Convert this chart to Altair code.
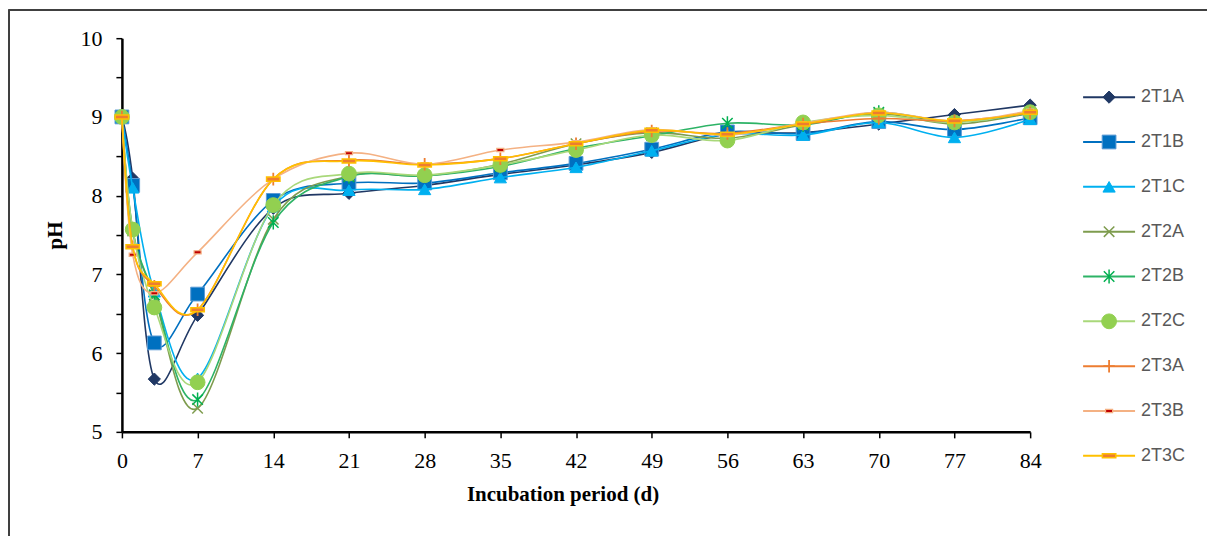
import altair as alt
import pandas as pd

# ---------------- data ----------------
days = [0, 1, 3, 7, 14, 21, 28, 35, 42, 49, 56, 63, 70, 77, 84]
series_names = ["2T1A", "2T1B", "2T1C", "2T2A", "2T2B", "2T2C", "2T3A", "2T3B", "2T3C"]

ph_2T1A = [9.00, 8.22, 5.67, 6.48, 7.84, 8.03, 8.13, 8.27, 8.39, 8.55, 8.78, 8.80, 8.91, 9.03, 9.15]
ph_2T1B = [9.00, 8.13, 6.13, 6.75, 7.94, 8.16, 8.16, 8.29, 8.41, 8.59, 8.81, 8.79, 8.94, 8.84, 8.99]
ph_2T1C = [9.00, 8.10, 6.78, 5.68, 7.86, 8.07, 8.08, 8.23, 8.36, 8.57, 8.78, 8.77, 8.93, 8.74, 8.97]
ph_2T2A = [9.00, 7.55, 6.72, 5.30, 7.70, 8.25, 8.25, 8.40, 8.66, 8.80, 8.73, 8.90, 9.04, 8.91, 9.05]
ph_2T2B = [9.00, 7.57, 6.74, 5.41, 7.66, 8.24, 8.25, 8.37, 8.60, 8.76, 8.92, 8.90, 9.06, 8.94, 9.05]
ph_2T2C = [9.00, 7.57, 6.58, 5.63, 7.88, 8.28, 8.26, 8.39, 8.58, 8.77, 8.70, 8.93, 9.02, 8.93, 9.06]
ph_2T3A = [9.00, 7.35, 6.85, 6.55, 8.21, 8.45, 8.40, 8.47, 8.66, 8.82, 8.79, 8.91, 8.98, 8.95, 9.05]
ph_2T3B = [9.00, 7.25, 6.76, 7.28, 8.21, 8.54, 8.40, 8.58, 8.68, 8.84, 8.77, 8.92, 9.06, 8.95, 9.08]
ph_2T3C = [9.00, 7.35, 6.88, 6.55, 8.21, 8.44, 8.39, 8.47, 8.66, 8.83, 8.78, 8.91, 9.05, 8.95, 9.06]

x_ticks = [0, 7, 14, 21, 28, 35, 42, 49, 56, 63, 70, 77, 84]
y_ticks = [5, 5.5, 6, 6.5, 7, 7.5, 8, 8.5, 9, 9.5, 10]

all_values = [ph_2T1A, ph_2T1B, ph_2T1C, ph_2T2A, ph_2T2B, ph_2T2C, ph_2T3A, ph_2T3B, ph_2T3C]
rows = []
for name, vals in zip(series_names, all_values):
    for d, v in zip(days, vals):
        rows.append({"series": name, "day": d, "pH": v})
df = pd.DataFrame(rows)
legend_df = pd.DataFrame({"series": series_names})

# ---------------- styles ----------------
X_PATH = "M-1,-1L1,1M-1,1L1,-1"
AST_PATH = "M-1,-1L1,1M-1,1L1,-1M0,-1.35L0,1.35"
PLUS_PATH = "M-1,0L1,0M0,-1.1L0,1.1"
DASH_PATH = "M-1,-0.3L1,-0.3L1,0.3L-1,0.3Z"
SMALL_DASH = "M-1,-0.45L1,-0.45L1,0.45L-1,0.45Z"

styles = {
    "2T1A": dict(line="#203864", shape="diamond", fill="#203864", stroke="#203864", size=150, sw=1),
    "2T1B": dict(line="#0070C0", shape="square", fill="#0070C0", stroke="#5B9BD5", size=190, sw=1),
    "2T1C": dict(line="#00B0F0", shape="triangle-up", fill="#00B0F0", stroke="#00B0F0", size=150, sw=1),
    "2T2A": dict(line="#7E9C4E", shape=X_PATH, fill=None, stroke="#7E9C4E", size=110, sw=1.5),
    "2T2B": dict(line="#2DB366", shape=AST_PATH, fill=None, stroke="#00B050", size=110, sw=1.5),
    "2T2C": dict(line="#A9D87A", shape="circle", fill="#92D050", stroke="#92D050", size=220, sw=1),
    "2T3A": dict(line="#ED7D31", shape=PLUS_PATH, fill=None, stroke="#ED7D31", size=130, sw=1.8),
    "2T3B": dict(line="#F4B183", shape=SMALL_DASH, fill="#C00000", stroke="#F4B183", size=50, sw=1.2),
    "2T3C": dict(line="#FFC000", shape=DASH_PATH, fill="#ED7D31", stroke="#FFC000", size=180, sw=1.5),
}

serif = "Liberation Serif"

x_axis = alt.Axis(
    values=x_ticks, title="Incubation period (d)", grid=False,
    domainColor="black", domainWidth=2.5, tickColor="black", tickWidth=1.5, tickSize=6,
    labelFont=serif, labelFontSize=22, labelColor="black", labelPadding=13, labelFlush=False,
    titleFont=serif, titleFontSize=21, titleFontWeight="bold", titleColor="black", titlePadding=12,
    titleX=441, titleAlign="center",
)
y_axis = alt.Axis(
    values=y_ticks, title="pH", grid=False,
    labelExpr="datum.value % 1 === 0 ? format(datum.value, 'd') : ''",
    domainColor="black", domainWidth=2.5, tickColor="black", tickWidth=1.5, tickSize=6,
    labelFont=serif, labelFontSize=22, labelColor="black", labelPadding=14,
    titleFont=serif, titleFontSize=21, titleFontWeight="bold", titleColor="black", titlePadding=14,
)
x_enc = alt.X("day:Q", scale=alt.Scale(domain=[0, 84], nice=False, zero=False), axis=x_axis)
y_enc = alt.Y("pH:Q", scale=alt.Scale(domain=[5, 10], nice=False, zero=False), axis=y_axis)

base = alt.Chart(df)

layers = []
# outer frame (left and top edges)
frame_top = alt.Chart(legend_df).mark_rule(color="#404040", strokeWidth=1.5).encode(
    x=alt.value(-113), x2=alt.value(1086), y=alt.value(-28.5))
frame_left = alt.Chart(legend_df).mark_rule(color="#404040", strokeWidth=1.5).encode(
    x=alt.value(-113), y=alt.value(-28.5), y2=alt.value(498))
layers += [frame_top, frame_left]


def marker_kw(st):
    kw = dict(shape=st["shape"], size=st["size"], stroke=st["stroke"], strokeWidth=st["sw"], opacity=1)
    if st["fill"] is not None:
        kw["fill"] = st["fill"]
        kw["filled"] = True
    else:
        kw["filled"] = False
    return kw


for s in series_names:
    st = styles[s]
    sub = base.transform_filter(alt.datum.series == s)
    lines_s = sub.mark_line(interpolate="cardinal", strokeWidth=1.6, color=st["line"]).encode(
        x=x_enc, y=y_enc, order=alt.Order("day:Q"))
    pts = sub.mark_point(**marker_kw(st)).encode(x=x_enc, y=y_enc)
    layers += [lines_s, pts]

main = alt.layer(*layers).properties(width=909, height=394)

# ---------------- legend panel ----------------
leg_y = alt.Y("series:N", scale=alt.Scale(type="point", domain=series_names, range=[59, 418], padding=0),
              axis=None)
leg_layers = []
for s in series_names:
    st = styles[s]
    d = alt.Chart(legend_df).transform_filter(alt.datum.series == s)
    leg_layers.append(d.mark_rule(color=st["line"], strokeWidth=2).encode(
        x=alt.value(0), x2=alt.value(52), y=leg_y))
    leg_layers.append(d.mark_point(**marker_kw(st)).encode(x=alt.value(26), y=leg_y))
leg_layers.append(alt.Chart(legend_df).mark_text(
    align="left", baseline="middle", font="Liberation Sans", fontSize=18, color="#595959"
).encode(x=alt.value(58), y=leg_y, text="series:N"))
legend = alt.layer(*leg_layers).properties(width=110, height=394)

chart = alt.hconcat(main, legend, spacing=53, bounds="flush").properties(
    padding=0, background="white"
).configure_view(strokeWidth=0, stroke="transparent")

chart.save("out.html", embed_options={"renderer": "svg", "actions": False})
